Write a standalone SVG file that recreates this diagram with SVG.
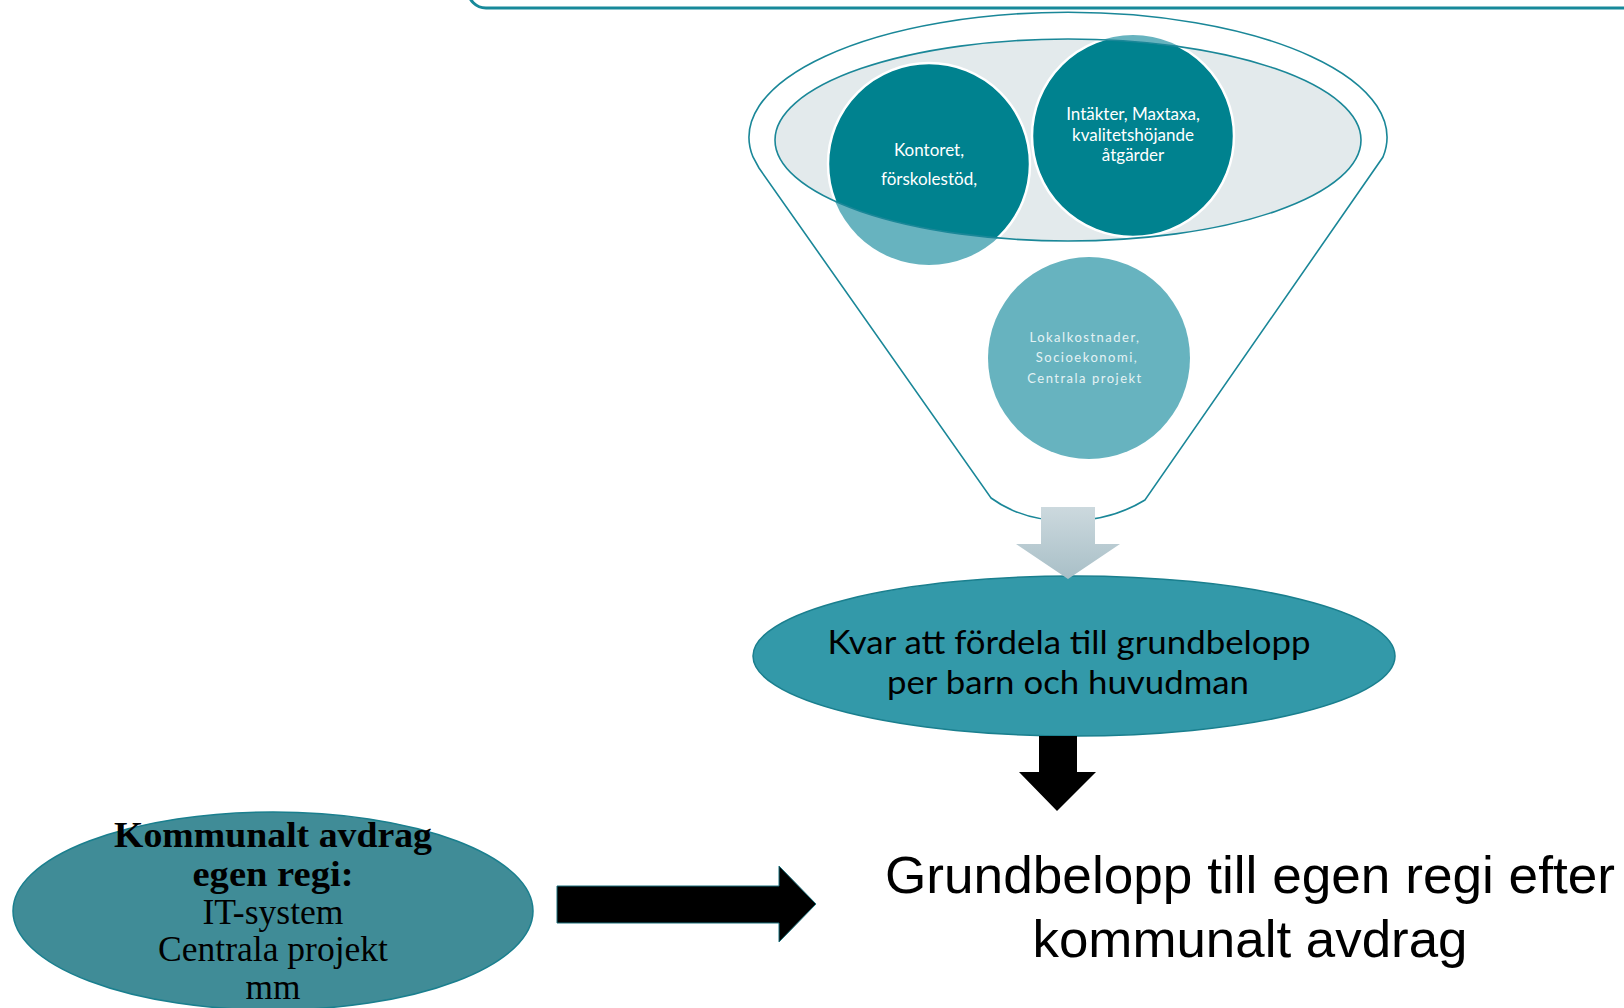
<svg xmlns="http://www.w3.org/2000/svg" width="1624" height="1008" viewBox="0 0 1624 1008">
<style>
.cal{font-family:Lato,"Open Sans","Noto Sans",sans-serif}
.wt{fill:#ffffff;font-size:17px;text-anchor:middle}
.lt{fill:#e4f2f4;font-size:13px;text-anchor:middle;letter-spacing:1.5px}
.ser{font-family:"Liberation Serif","Times New Roman",serif;font-size:35px;text-anchor:middle;fill:#000}
</style>
<defs>
<clipPath id="inner"><ellipse cx="1068" cy="140" rx="293" ry="101"/></clipPath>
<linearGradient id="gshaft" x1="0" y1="0" x2="0" y2="1">
<stop offset="0" stop-color="#ccd9de"/><stop offset="1" stop-color="#a8bfc7"/>
</linearGradient>
</defs>
<g id="top-frame">
<rect x="468" y="-60" width="1220" height="68" rx="18" fill="none" stroke="#17899a" stroke-width="3"/>
</g>
<g id="funnel">
<path d="M753,157 A319,125 0 1 1 1383,157 L1145,500 C1122,514 1096,521 1068,521 C1040,521 1013,514 991,498 L759,168 Z" fill="#ffffff" stroke="#1a8798" stroke-width="1.6"/>
<ellipse cx="1068" cy="140" rx="293" ry="101" fill="#e3eaec"/>
</g>
<g id="circles-light">
<circle cx="929" cy="164" r="101" fill="#67b3bf"/>
<circle cx="1133" cy="136" r="101" fill="#67b3bf"/>
</g>
<g clip-path="url(#inner)">
<circle cx="929" cy="164" r="101" fill="#00828f" stroke="#ffffff" stroke-width="2.5"/>
<circle cx="1133" cy="136" r="101" fill="#00828f" stroke="#ffffff" stroke-width="2.5"/>
</g>
<ellipse cx="1068" cy="140" rx="293" ry="101" fill="none" stroke="#1a8798" stroke-width="1.6"/>
<g id="node-kontoret">
<text class="cal wt" x="929" y="156">Kontoret,</text>
<text class="cal wt" x="929" y="185">förskolestöd,</text>
</g>
<g id="node-intakter">
<text class="cal wt" x="1133" y="120">Intäkter, Maxtaxa,</text>
<text class="cal wt" x="1133" y="141">kvalitetshöjande</text>
<text class="cal wt" x="1133" y="161">åtgärder</text>
</g>
<g id="node-lokal">
<circle cx="1089" cy="358" r="101" fill="#67b3bf"/>
<text class="cal lt" x="1085" y="342">Lokalkostnader,</text>
<text class="cal lt" x="1087" y="362">Socioekonomi,</text>
<text class="cal lt" x="1085" y="383">Centrala projekt</text>
</g>
<g id="node-kvar">
<ellipse cx="1074" cy="656" rx="321" ry="80" fill="#3399a9" stroke="#1a7f8e" stroke-width="1.5"/>
<text class="cal" x="1069" y="654" font-size="33" text-anchor="middle" fill="#000" textLength="483" lengthAdjust="spacingAndGlyphs">Kvar att fördela till grundbelopp</text>
<text class="cal" x="1068" y="694" font-size="33" text-anchor="middle" fill="#000" textLength="362" lengthAdjust="spacingAndGlyphs">per barn och huvudman</text>
</g>
<g id="node-grundbelopp">
<text x="1250" y="893" font-family="'Liberation Sans',Arial,sans-serif" font-size="52" text-anchor="middle" fill="#000" textLength="730" lengthAdjust="spacingAndGlyphs">Grundbelopp till egen regi efter</text>
<text x="1250" y="957" font-family="'Liberation Sans',Arial,sans-serif" font-size="52" text-anchor="middle" fill="#000" textLength="435" lengthAdjust="spacingAndGlyphs">kommunalt avdrag</text>
</g>
<g id="node-kommunalt">
<ellipse cx="273" cy="911" rx="260" ry="99" fill="#408c97" stroke="#1a7f8e" stroke-width="1.5"/>
<text class="ser" x="273" y="847" font-weight="bold" textLength="318" lengthAdjust="spacingAndGlyphs">Kommunalt avdrag</text>
<text class="ser" x="273" y="886" font-weight="bold" textLength="161" lengthAdjust="spacingAndGlyphs">egen regi:</text>
<text class="ser" x="273" y="924" textLength="141" lengthAdjust="spacingAndGlyphs">IT-system</text>
<text class="ser" x="273" y="961" textLength="230" lengthAdjust="spacingAndGlyphs">Centrala projekt</text>
<text class="ser" x="273" y="999" textLength="55" lengthAdjust="spacingAndGlyphs">mm</text>
</g>
<g id="connectors">
<path d="M1041,507 H1095 V544 H1120 L1068,579 L1016,544 H1041 Z" fill="url(#gshaft)"/>
<path d="M1039,736 H1077 V772 H1096 L1057,811 L1019,772 H1039 Z" fill="#000"/>
<path d="M557,886 H779 V866 L816,904 L779,942 V923 H557 Z" fill="#000" stroke="#1a6f7a" stroke-width="1"/>
</g>
</svg>
